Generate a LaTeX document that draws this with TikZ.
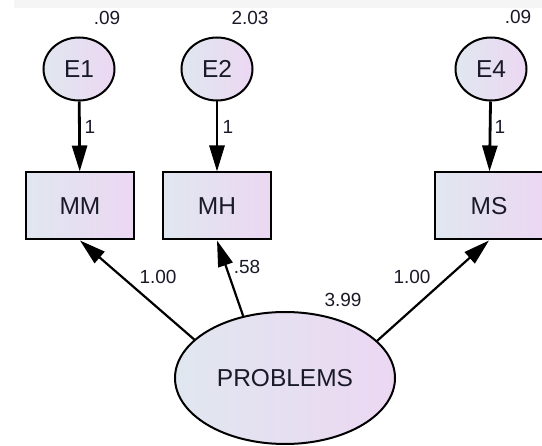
\documentclass[tikz,border=0pt]{standalone}
\usepackage{fontspec}
\setmainfont{Liberation Sans}
\usetikzlibrary{arrows.meta,shapes.geometric}

\definecolor{fillleft}{RGB}{224,231,240}
\definecolor{fillright}{RGB}{236,215,242}
\definecolor{inktext}{RGB}{25,25,40}

\begin{document}
\begin{tikzpicture}[x=1pt,y=-1pt,>={Triangle[length=26pt,width=15pt]}]
    \tikzstyle{var}=[draw=black,line width=2pt,shading angle=45,left color=fillleft,right color=fillright,text=inktext,font=\fontsize{24.5}{26}\selectfont,inner sep=0pt]
    \tikzstyle{error var}=[var,ellipse,minimum width=71pt,minimum height=63pt]
    \tikzstyle{observed var}=[var,rectangle,minimum width=108pt,minimum height=67pt]
    \tikzstyle{latent var}=[var,ellipse,minimum width=220pt,minimum height=132pt]
    \tikzstyle{fixed path}=[->,line width=2.8pt]
    \tikzstyle{load path}=[->,line width=2.2pt]
    \tikzstyle{annot}=[text=inktext,font=\fontsize{19}{21}\selectfont,inner sep=0pt]

    \useasboundingbox (0,0) rectangle (542,446);
    \fill[black!4] (14,0) rectangle (542,8);

% Nodes
    % Error terms
    \foreach \name / \x in {1/79,2/217,4/491}
        \node[error var] (E\name) at (\x,69) {E\name};

    % Observed variables
    \foreach \name / \x in {MM/80,MH/217,MS/489}
        \node[observed var] (\name) at (\x,206) {\name};

    % Latent variable
    \node[latent var] (P) at (285,378) {PROBLEMS};

% Paths

    % Errors to observed
    \draw[fixed path] (E1) -- (MM);
    \draw[fixed path] (E2) -- (MH);
    \draw[fixed path] (E4) -- (MS);

    % Latent to observed
    \draw[load path] (P.157) -- (MM.south);
    \draw[load path] (P.124) -- (MH.south);
    \draw[load path] (P.22) -- (MS.south);

% Labels
    \node[annot] (v1) at (107,18) {.09};
    \node[annot] (v2) at (250,18) {2.03};
    \node[annot] (v4) at (518,17) {.09};
    \node[annot] (f1) at (90,127) {1};
    \node[annot] (f2) at (228,127) {1};
    \node[annot] (f4) at (500,127) {1};
    \node[annot] (l1) at (158,277) {1.00};
    \node[annot] (l2) at (247,267) {.58};
    \node[annot] (l4) at (412,277) {1.00};
    \node[annot] (vp) at (343,300) {3.99};

\end{tikzpicture}
\end{document}
